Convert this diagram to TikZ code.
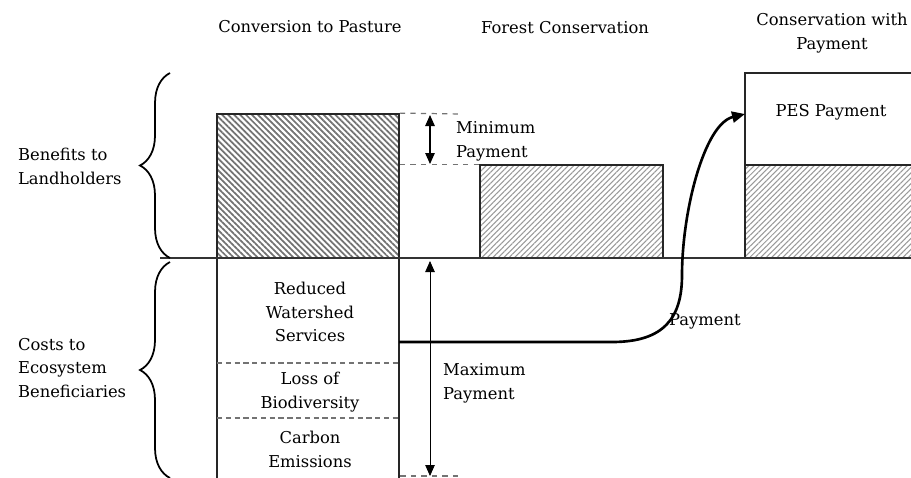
\documentclass[tikz,border=0pt]{standalone}
\usepackage{fontspec}
\setmainfont{DejaVu Serif}
\usetikzlibrary{positioning,arrows.meta,calc,fit,patterns.meta,decorations.pathreplacing}
\tikzset{
  >={Triangle[length=2.2mm,width=1.9mm]},
  txt/.style={font=\fontsize{9.3}{13.6}\selectfont,inner sep=1pt},
  lbl/.style={txt,align=left,anchor=west},
  ttl/.style={txt,align=center},
  pasturebox/.style={draw=black!85,line width=1.4pt,inner sep=0pt,
    pattern={Lines[angle=-45,distance=2.4pt,line width=1pt]},pattern color=black!55},
  forestbox/.style={draw=black!85,line width=1.4pt,inner sep=0pt,
    pattern={Lines[angle=45,distance=2.2pt,line width=0.6pt]},pattern color=black!40},
  plainbox/.style={draw=black!85,line width=1.4pt,inner sep=0pt},
  axisline/.style={line width=1pt,black!80},
  bracel/.style={decorate,decoration={brace,amplitude=0.6cm},line width=1pt},
  guide/.style={dashed,black!55,line width=0.7pt},
  splitline/.style={densely dashed,black!55,line width=0.8pt},
  minspan/.style={<->,line width=0.7pt},
  maxspan/.style={<->,line width=0.45pt},
  payflow/.style={-{Triangle[length=2.6mm,width=2.2mm]},line width=1.5pt},
}
\begin{document}
\begin{tikzpicture}[x=0.02cm,y=-0.02cm]
  \useasboundingbox (0,0) rectangle (911,477);
  \clip (0,0) rectangle (911,477);
  % column titles
  \node[ttl] (pastureT) at (310,27) {Conversion to Pasture};
  \node[ttl] (forestT) at (565,28) {Forest Conservation};
  \node[ttl] (pesT) at (832,33) {Conservation with\\Payment};
  % bars
  \node[pasturebox,fit={(217,114) (399,258)}] (pasture) {};
  \node[plainbox,fit={(217,258) (399,492)}] (damage) {};
  \node[forestbox,fit={(480,165) (663,258)}] (forest) {};
  \node[plainbox,fit={(745,73) (930,165)}] (pes) {};
  \node[forestbox,fit={(745,165) (930,258)}] (pesforest) {};
  \coordinate (axl) at (160,258);
  \coordinate (axr) at (911,258);
  \draw[axisline] (axl) -- (axr);
  % braces and their labels
  \draw[bracel] (170,258) -- (170,73);
  \draw[bracel] (170,478) -- (170,262);
  \node[lbl] (benefits) at (16,166) {Benefits to\\Landholders};
  \node[lbl] (costs) at (16,368) {Costs to\\Ecosystem\\Beneficiaries};
  % cost items
  \coordinate (s1l) at (217,363); \coordinate (s1r) at (399,363);
  \coordinate (s2l) at (217,418); \coordinate (s2r) at (399,418);
  \draw[splitline] (s1l) -- (s1r);
  \draw[splitline] (s2l) -- (s2r);
  \node[ttl] (water) at (310,312) {Reduced\\Watershed\\Services};
  \node[ttl] (biodiv) at (310,392) {Loss of\\Biodiversity};
  \node[ttl] (carbon) at (310,449) {Carbon\\Emissions};
  % minimum payment
  \coordinate (minhi) at (462,114);
  \coordinate (minlo) at (forest.north west);
  \draw[guide] (pasture.north east) -- (minhi);
  \draw[guide] (pasture.east |- minlo) -- (minlo);
  \coordinate (minA) at (430,115); \coordinate (minB) at (430,164);
  \draw[minspan] (minA) -- (minB);
  \node[lbl] (minpay) at (454,141) {Minimum\\Payment};
  % maximum payment
  \coordinate (maxA) at (430,261); \coordinate (maxB) at (430,476);
  \coordinate (maxlo) at (462,476);
  \draw[maxspan] (maxA) -- (maxB);
  \draw[guide] (damage.east |- maxlo) -- (maxlo);
  \node[lbl] (maxpay) at (441,383) {Maximum\\Payment};
  % payment flow
  \coordinate (payfrom) at (399,342);
  \coordinate (payto) at (745,114);
  \draw[payflow] (payfrom) -- (612,342) .. controls (664,342) and (682,318) .. (682,275)
    .. controls (682,212) and (704,124) .. (payto);
  \node[lbl] (paylbl) at (667,321) {Payment};
  \node[txt] (pestxt) at (831,112) {PES Payment};
\end{tikzpicture}
\end{document}
